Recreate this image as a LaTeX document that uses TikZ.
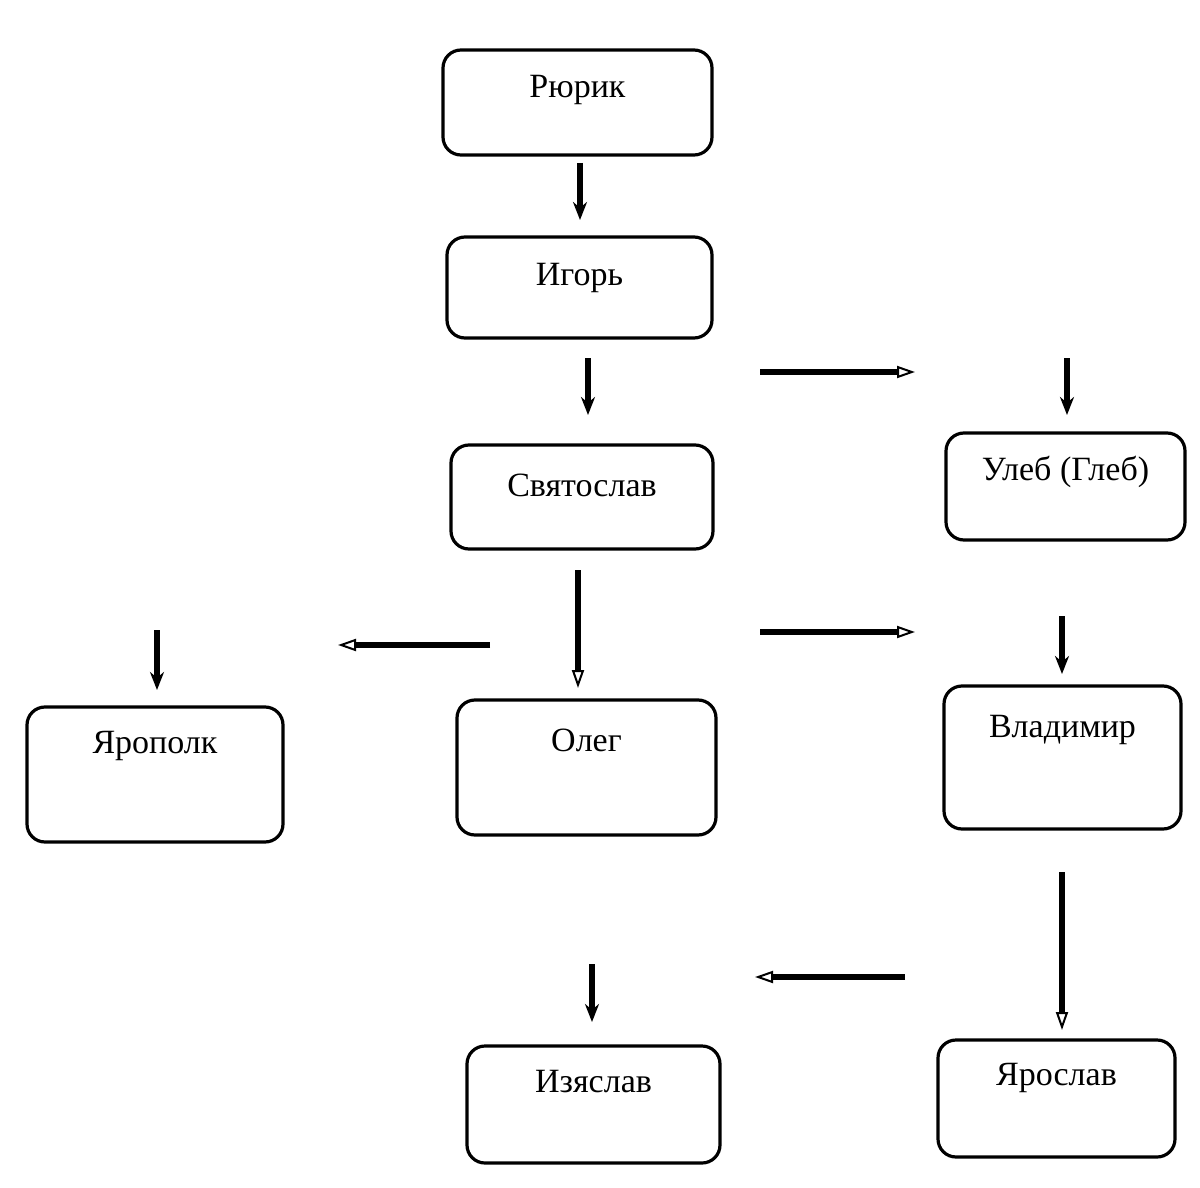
\documentclass[tikz,border=0pt]{standalone}
\usepackage{fontspec}
\setmainfont{Liberation Serif}
\usetikzlibrary{arrows.meta}
\begin{document}
\begin{tikzpicture}[x=0.5pt,y=-0.5pt,
  box/.style={draw,line width=1.6pt,rounded corners=9pt},
  lbl/.style={font=\fontsize{17}{20}\selectfont},
  fa/.style={line width=3pt,-{Stealth[length=9pt,width=7pt]}},
  oa/.style={line width=3pt,-{Triangle[open,length=9pt,width=6pt,line width=1pt]}}]
\useasboundingbox (0,0) rectangle (1200,1188);
\newcommand{\bx}[7]{\draw[box] (#2,#3) rectangle (#4,#5); \node[lbl] (#1) at ({(#2+#4)/2},#6) {#7};}
\bx{r}{443}{50}{712}{155}{90}{Рюрик}
\bx{i}{447}{237}{712}{338}{278}{Игорь}
\bx{s}{451}{445}{713}{549}{485}{Святослав}
\bx{u}{946}{433}{1185}{540}{472}{Улеб (Глеб)}
\bx{ya}{27}{707}{283}{842}{746}{Ярополк}
\bx{o}{457}{700}{716}{835}{740}{Олег}
\bx{v}{944}{686}{1181}{829}{730}{Владимир}
\bx{iz}{467}{1046}{720}{1163}{1082}{Изяслав}
\bx{yr}{938}{1040}{1175}{1157}{1078}{Ярослав}
\foreach \n/\x/\y in {a1/580/163,b1/580/220,a2/588/358,b2/588/415,a3/760/372,b3/915/372,
 a4/1067/358,b4/1067/415,a5/578/570,b5/578/688,a6/490/645,b6/338/645,a7/760/632,b7/915/632,
 a8/157/630,b8/157/690,a9/1062/616,b9/1062/674,a10/1062/872,b10/1062/1030,a11/905/977,b11/755/977,
 a12/592/964,b12/592/1022}{\coordinate (\n) at (\x,\y);}
\foreach \k in {1,2,4,8,9,12}{\draw[fa] (a\k) -- (b\k);}
\foreach \k in {3,5,6,7,10,11}{\draw[oa] (a\k) -- (b\k);}
\end{tikzpicture}
\end{document}
